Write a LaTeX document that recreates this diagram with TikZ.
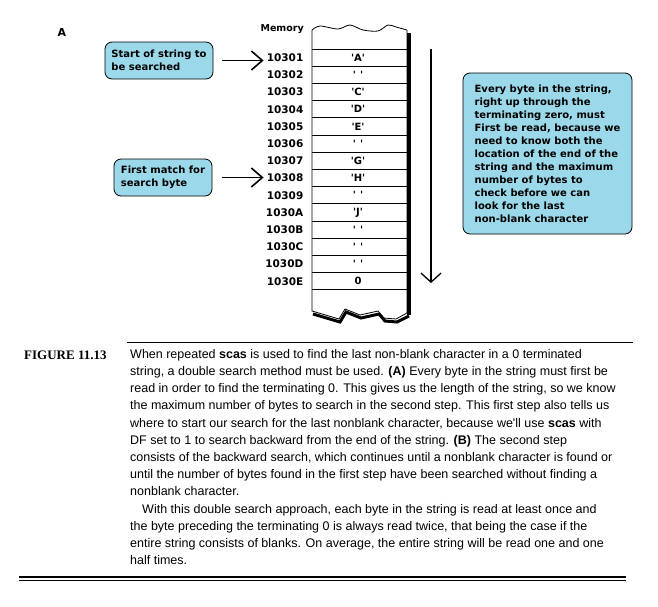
\documentclass[tikz,border=0pt]{standalone}
\usepackage{fontspec}
\setmainfont{Liberation Sans}
\newfontfamily\diagfont{DejaVu Sans}
\newfontfamily\figfont{Liberation Serif}
\usetikzlibrary{arrows.meta}
\usetikzlibrary{positioning}
\definecolor{noteblue}{RGB}{155,217,234}
\newcommand\q[1]{\textquotesingle#1\textquotesingle}

\begin{document}
\begin{tikzpicture}[x=1pt,y=-1pt,
  note/.style={draw,line width=0.8pt,rounded corners=7pt,fill=noteblue,align=left,
    font=\diagfont\bfseries\fontsize{10}{13}\selectfont,inner sep=0pt},
  addr/.style={anchor=east,font=\diagfont\bfseries\fontsize{10.5}{12}\selectfont,inner sep=3pt},
  cell/.style={font=\diagfont\bfseries\fontsize{10}{12}\selectfont,inner sep=0pt},
  ptr/.style={-{Straight Barb[length=11pt,width=19pt]},line width=1.6pt}]

  \useasboundingbox (0,0) rectangle (658,606);

	\def\rowh{17.2};
	\def\rowy{49};

	\node[cell,font=\diagfont\bfseries\fontsize{11}{13}\selectfont] (partA) at (62,32) {A};
	\node[cell,anchor=east,font=\diagfont\bfseries\fontsize{9.5}{11}\selectfont] (memory) at (304,29) {Memory};

	% memory column
	\fill (407,33) rectangle (411,315);
	\draw[line width=3pt] (313,314) -- (340,322) -- (346,312) -- (361,318) -- (379,314) -- (385,321) -- (397,322) -- (409,316);
	\draw[line width=0.8pt] plot[smooth] coordinates {(312,30) (320,26) (338,29) (350,25) (363,30) (378,31) (388,25) (396,27) (407,30)};
	\draw[line width=0.8pt] (312,30) -- (312,311) -- (339,319) -- (345,309) -- (360,315) -- (378,311) -- (384,318) -- (396,319) -- (407,313) -- (407,30);

    \foreach \i/\adr/\val in {0/10301/{\q{A}},1/10302/{\q{\hspace{4pt}}},2/10303/{\q{C}},3/10304/{\q{D}},4/10305/{\q{E}},
      5/10306/{\q{\hspace{4pt}}},6/10307/{\q{G}},7/10308/{\q{H}},8/10309/{\q{\hspace{4pt}}},9/1030A/{\q{J}},
      10/1030B/{\q{\hspace{4pt}}},11/1030C/{\q{\hspace{4pt}}},12/1030D/{\q{\hspace{4pt}}},13/1030E/{0}} {
         \draw[line width=0.8pt] (312,\rowy+\i*\rowh) -- (407,\rowy+\i*\rowh);
         \node[addr] (m\adr) at (306.5,\rowy+\i*\rowh+\rowh/2) {\adr};
         \node[cell] (c\adr) at (358,\rowy+\i*\rowh+\rowh/2) {\val};
    }
	\draw[line width=0.8pt] (312,\rowy+14*\rowh) -- (407,\rowy+14*\rowh);

	% notes and pointers
	\node[note,minimum width=108pt,minimum height=37pt] (start) at (159,60.5) {Start of string to\\be searched};
	\node[note,minimum width=98pt,minimum height=37pt] (match) at (163,177.5) {First match for\\search byte};
	\node[note,minimum width=169pt,minimum height=161pt] (why) at (547.5,153.5) {Every byte in the string,\\right up through the\\terminating zero, must\\First be read, because we\\need to know both the\\location of the end of the\\string and the maximum\\number of bytes to\\check before we can\\look for the last\\non-blank character};

	\draw[ptr] ([xshift=9pt]start.east) -- (start.east -| m10301.west);
	\draw[ptr] ([xshift=10pt]match.east) -- (match.east -| m10308.west);

	\coordinate (scantop) at (431,49);
	\coordinate (scanend) at (431,283);
	\draw[-{Straight Barb[length=9pt,width=20pt]},line width=1.3pt] (scantop) -- (scanend);

	% caption
	\draw[line width=0.8pt] (127,342) -- (633,342);
	\node[anchor=west,inner sep=0pt,font=\figfont\bfseries\fontsize{13}{15}\selectfont] (fig) at (24,355) {FIGURE 11.13};
	\node[anchor=north west,inner sep=0pt,align=left,font=\fontsize{12.5}{17.2}\selectfont] (capt) at (130,349) {When repeated \textbf{scas} is used to find the last non-blank character in a 0 terminated\\
string, a double search method must be used. \textbf{(A)} Every byte in the string must first be\\
read in order to find the terminating 0. This gives us the length of the string, so we know\\
the maximum number of bytes to search in the second step. This first step also tells us\\
where to start our search for the last nonblank character, because we\textquotesingle ll use \textbf{scas} with\\
DF set to 1 to search backward from the end of the string. \textbf{(B)} The second step\\
consists of the backward search, which continues until a nonblank character is found or\\
until the number of bytes found in the first step have been searched without finding a\\
nonblank character.\\
\hspace*{12pt}With this double search approach, each byte in the string is read at least once and\\
the byte preceding the terminating 0 is always read twice, that being the case if the\\
entire string consists of blanks. On average, the entire string will be read one and one\\
half times.};
	\draw[line width=1.2pt] (19,577) -- (626,577);
	\draw[line width=1.2pt] (19,580.5) -- (626,580.5);

\end{tikzpicture}
\end{document}
